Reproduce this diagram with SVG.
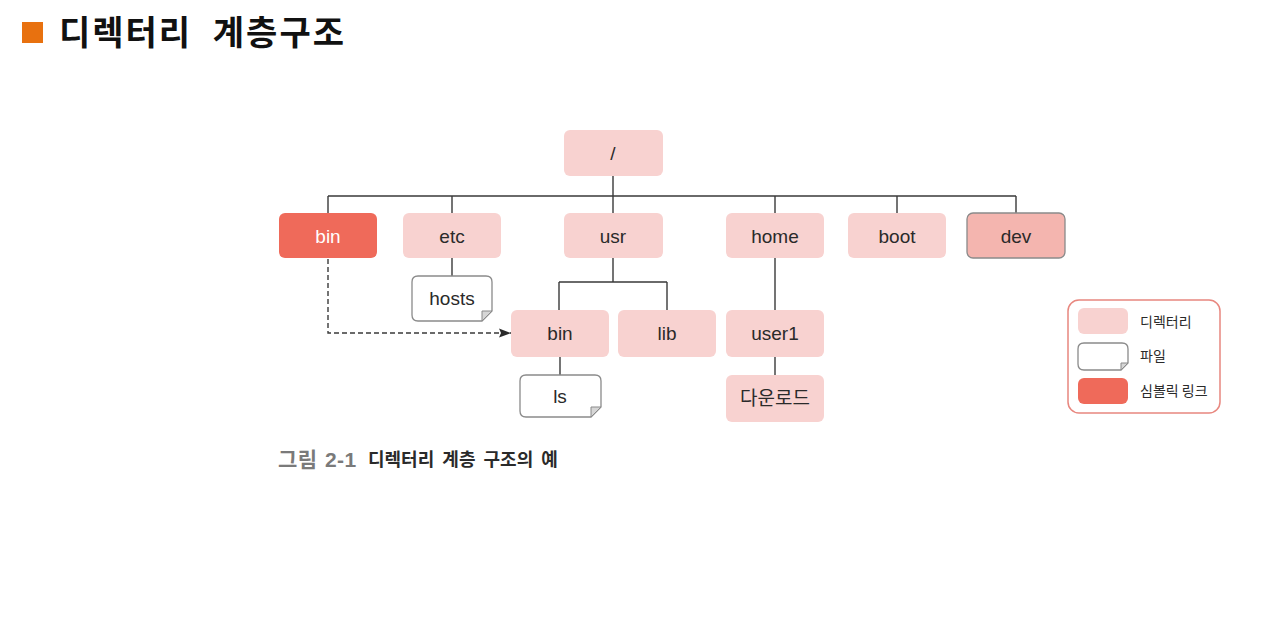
<svg xmlns="http://www.w3.org/2000/svg" width="1280" height="630" viewBox="0 0 1280 630">
<defs>
<style>
.dir{fill:#f8d2d0}
.sym{fill:#ef6a5a}
.dev{fill:#f4b5af;stroke:#8a8a8a;stroke-width:1.3}
.file{fill:#fff;stroke:#8a8a8a;stroke-width:1.3}
.fold{fill:#d6d6d6;stroke:#8a8a8a;stroke-width:1}
.lbl{font-family:"Liberation Sans",Arial,"Noto Sans CJK KR",sans-serif;font-size:19px;fill:#2a2a2a;text-anchor:middle}
.lblw{fill:#fff}
.line{fill:none;stroke:#3a3a3a;stroke-width:1.4}
.dash{fill:none;stroke:#3a3a3a;stroke-width:1.4;stroke-dasharray:5 3}
.leg{font-family:"Noto Sans CJK KR","Liberation Sans",sans-serif;font-size:14px;fill:#2a2a2a}
</style>
<marker id="arr" viewBox="0 0 12 10" refX="12" refY="5" markerWidth="12" markerHeight="10" markerUnits="userSpaceOnUse" orient="auto">
<path d="M0,0.5 L12,5 L0,9.5 L2,5 Z" fill="#2a2a2a"/>
</marker>
</defs>
<rect width="1280" height="630" fill="#fff"/>
<g id="title">
<rect x="22" y="22" width="21" height="21" fill="#e8710f"/>
<text x="59" y="45" font-family="'Noto Sans CJK KR',sans-serif" font-size="34" font-weight="bold" letter-spacing="2" word-spacing="11" fill="#111">디렉터리 계층구조</text>
</g>
<g id="connectors">
<path class="line" d="M613,176 V196 M328,196 H1016 M328,196 V213 M452,196 V213 M613,196 V213 M775,196 V213 M897,196 V213 M1016,196 V213"/>
<path class="line" d="M452,258 V276"/>
<path class="line" d="M613,258 V282 M559,282 H667 M559,282 V310 M667,282 V310"/>
<path class="line" d="M560,357 V375"/>
<path class="line" d="M775,258 V310 M775,357 V375"/>
<path class="dash" d="M328,259 V333 H511" marker-end="url(#arr)"/>
</g>
<g id="n-root"><rect class="dir" x="564" y="130" width="99" height="46" rx="6"/><text class="lbl" x="613" y="160">/</text></g>
<g id="n-bin"><rect class="sym" x="279" y="213" width="98" height="45" rx="6"/><text class="lbl lblw" x="328" y="243">bin</text></g>
<g id="n-etc"><rect class="dir" x="403" y="213" width="98" height="45" rx="6"/><text class="lbl" x="452" y="243">etc</text></g>
<g id="n-usr"><rect class="dir" x="564" y="213" width="99" height="45" rx="6"/><text class="lbl" x="613" y="243">usr</text></g>
<g id="n-home"><rect class="dir" x="726" y="213" width="98" height="45" rx="6"/><text class="lbl" x="775" y="243">home</text></g>
<g id="n-boot"><rect class="dir" x="848" y="213" width="98" height="45" rx="6"/><text class="lbl" x="897" y="243">boot</text></g>
<g id="n-dev"><rect class="dev" x="967" y="213" width="98" height="45" rx="6"/><text class="lbl" x="1016" y="243">dev</text></g>
<g id="n-hosts"><path class="file" d="M418,276 H486 Q492,276 492,282 V311 L482,321 H418 Q412,321 412,315 V282 Q412,276 418,276 Z"/><path class="fold" d="M492,311 L482,321 V311 Z"/><text class="lbl" x="452" y="305">hosts</text></g>
<g id="n-usrbin"><rect class="dir" x="511" y="310" width="98" height="47" rx="6"/><text class="lbl" x="560" y="340">bin</text></g>
<g id="n-lib"><rect class="dir" x="618" y="310" width="98" height="47" rx="6"/><text class="lbl" x="667" y="340">lib</text></g>
<g id="n-user1"><rect class="dir" x="726" y="310" width="98" height="47" rx="6"/><text class="lbl" x="775" y="340">user1</text></g>
<g id="n-ls"><path class="file" d="M526,375 H595 Q601,375 601,381 V407 L591,417 H526 Q520,417 520,411 V381 Q520,375 526,375 Z"/><path class="fold" d="M601,407 L591,417 V407 Z"/><text class="lbl" x="560" y="403">ls</text></g>
<g id="n-download"><rect class="dir" x="726" y="375" width="98" height="47" rx="6"/><text class="lbl" x="775" y="405" font-family="'Noto Sans CJK KR',sans-serif">다운로드</text></g>
<g id="legend">
<rect x="1068" y="300" width="152" height="113" rx="11" fill="#fff" stroke="#e8877f" stroke-width="1.5"/>
<rect class="dir" x="1078" y="308" width="50" height="26" rx="6"/>
<path class="file" d="M1084,343 H1122 Q1128,343 1128,349 V363 L1121,370 H1084 Q1078,370 1078,364 V349 Q1078,343 1084,343 Z"/>
<path class="fold" d="M1128,363 L1121,370 V363 Z"/>
<rect class="sym" x="1078" y="378" width="50" height="26" rx="6"/>
<text class="leg" x="1140" y="327">디렉터리</text>
<text class="leg" x="1140" y="361">파일</text>
<text class="leg" x="1140" y="396">심볼릭 링크</text>
</g>
<g id="caption">
<text x="278" y="467" font-family="'Noto Sans CJK KR',sans-serif" font-size="21" font-weight="bold" fill="#7a7a7a" letter-spacing="0.5" word-spacing="2">그림 <tspan font-family="'Liberation Sans',Arial,sans-serif" font-size="21">2-1</tspan></text>
<text x="368" y="466" font-family="'Noto Sans CJK KR',sans-serif" font-size="18" font-weight="bold" fill="#2a2a2a" word-spacing="4">디렉터리 계층 구조의 예</text>
</g>
</svg>
